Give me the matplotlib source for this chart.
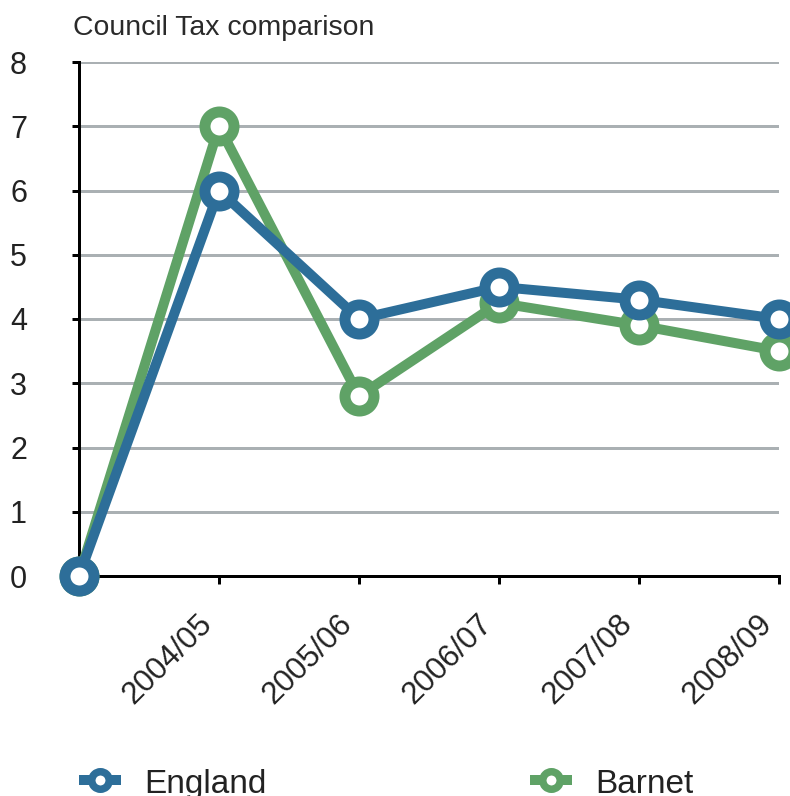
import matplotlib
matplotlib.use("Agg")
import matplotlib.pyplot as plt
from matplotlib.lines import Line2D
from matplotlib.transforms import ScaledTranslation

plt.rcParams['font.family'] = ['Liberation Sans', 'DejaVu Sans']

# Council tax percentage increases by year
periods = ["", "2004/05", "2005/06", "2006/07", "2007/08", "2008/09"]
england = [0, 6.0, 4.0, 4.5, 4.3, 4.0]
barnet = [0, 7.0, 2.8, 4.25, 3.9, 3.5]

BLUE = "#2d6e99"
GREEN = "#5fa266"
GRID = "#aab0b3"
TEXT = "#222222"

DPI = 100
fig = plt.figure(figsize=(7.9, 7.96), dpi=DPI)
ax = fig.add_axes([79 / 790, 220 / 796, 700 / 790, 514 / 796])

x = list(range(len(periods)))
pt = 72 / DPI  # points per pixel

style = dict(lw=10 * pt, marker="o", ms=29 * pt, mew=11 * pt,
             mfc="white", clip_on=False, solid_joinstyle="miter")
ax.plot(x, barnet, color=GREEN, zorder=3, **style)
ax.plot(x, england, color=BLUE, zorder=4, **style)

ax.set_xlim(0, 5)
ax.set_ylim(0, 8)
ax.set_yticks(range(0, 9))
ax.set_xticks(x[1:])
ax.set_xticklabels(periods[1:])

ax.yaxis.grid(True, color=GRID, lw=3 * pt, zorder=0)
ax.set_axisbelow(True)

for s in ["top", "right"]:
    ax.spines[s].set_visible(False)
for s in ["left", "bottom"]:
    ax.spines[s].set_linewidth(3 * pt)
    ax.spines[s].set_color("black")
    ax.spines[s].set_zorder(2.5)

ax.tick_params(axis="y", length=7 * pt, width=3 * pt, pad=45 * pt,
               labelsize=22, labelcolor=TEXT)
ax.tick_params(axis="x", length=8 * pt, width=3 * pt, pad=34 * pt,
               labelsize=22.5, labelcolor=TEXT)
shift = ScaledTranslation(-11 / DPI, -1 / DPI, fig.dpi_scale_trans)
for lab in ax.get_xticklabels():
    lab.set_rotation(45)
    lab.set_ha("right")
    lab.set_va("center")
    lab.set_rotation_mode("anchor")
    lab.set_transform(lab.get_transform() + shift)

fig.text(73 / 790, 1 - 35 / 796, "Council Tax comparison", fontsize=20.4,
         color="#2a2a2a", va="baseline", ha="left")

# Legend drawn along the bottom edge
def legend_entry(xm, xt, label, color):
    y = 1 - 780 / 796
    fig.add_artist(Line2D([(xm - 16) / 790, (xm + 16) / 790], [y, y],
                          transform=fig.transFigure, color=color, lw=10 * pt))
    fig.add_artist(Line2D([xm / 790], [y], transform=fig.transFigure,
                          marker="o", ms=17.5 * pt, mew=7.5 * pt, mfc="white",
                          color=color, lw=0))
    fig.text(xt / 790, 1 - 793 / 796, label, fontsize=24, color=TEXT,
             va="baseline", ha="left")

legend_entry(100, 144, "England", BLUE)
legend_entry(551, 595, "Barnet", GREEN)

fig.savefig("out.png", dpi=DPI)
